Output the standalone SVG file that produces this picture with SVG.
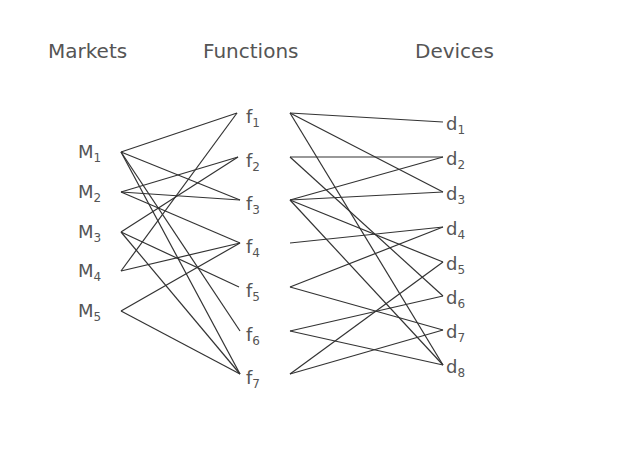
<svg xmlns="http://www.w3.org/2000/svg" width="618" height="465" viewBox="0 0 618 465">
<style>
.h{font-family:"DejaVu Sans",sans-serif;font-size:20px;fill:#555}
.l{font-family:"DejaVu Sans",sans-serif;font-size:18px;fill:#555}
.s{font-size:12px}
#connectors line{stroke:#333;stroke-width:1.2}
</style>
<rect width="618" height="465" fill="#fff"/>
<g id="headers">
<text class="h" x="48" y="58">Markets</text>
<text class="h" x="203" y="58">Functions</text>
<text class="h" x="415" y="58">Devices</text>
</g>
<g id="connectors">
<line x1="121" y1="152" x2="237" y2="113"/>
<line x1="121" y1="152" x2="240" y2="200"/>
<line x1="121" y1="152" x2="240" y2="331"/>
<line x1="121" y1="152" x2="240" y2="374"/>
<line x1="121" y1="192" x2="238" y2="157"/>
<line x1="121" y1="192" x2="240" y2="200"/>
<line x1="121" y1="192" x2="240" y2="243"/>
<line x1="121" y1="232" x2="238" y2="157"/>
<line x1="121" y1="232" x2="239" y2="287"/>
<line x1="121" y1="232" x2="240" y2="374"/>
<line x1="121" y1="271" x2="237" y2="113"/>
<line x1="121" y1="271" x2="240" y2="243"/>
<line x1="121" y1="311" x2="240" y2="243"/>
<line x1="121" y1="311" x2="240" y2="374"/>
<line x1="290" y1="113" x2="443" y2="122"/>
<line x1="290" y1="113" x2="443" y2="192"/>
<line x1="290" y1="113" x2="443" y2="365"/>
<line x1="290" y1="157" x2="443" y2="157"/>
<line x1="290" y1="157" x2="443" y2="296"/>
<line x1="290" y1="200" x2="443" y2="157"/>
<line x1="290" y1="200" x2="443" y2="192"/>
<line x1="290" y1="200" x2="443" y2="262"/>
<line x1="290" y1="200" x2="443" y2="365"/>
<line x1="290" y1="243" x2="443" y2="227"/>
<line x1="290" y1="287" x2="443" y2="227"/>
<line x1="290" y1="287" x2="443" y2="330"/>
<line x1="290" y1="331" x2="443" y2="296"/>
<line x1="290" y1="331" x2="443" y2="365"/>
<line x1="290" y1="374" x2="443" y2="262"/>
<line x1="290" y1="374" x2="443" y2="330"/>
</g>
<g id="M1"><text class="l" x="78" y="158">M<tspan class="s" dy="4">1</tspan></text></g>
<g id="M2"><text class="l" x="78" y="198">M<tspan class="s" dy="4">2</tspan></text></g>
<g id="M3"><text class="l" x="78" y="238">M<tspan class="s" dy="4">3</tspan></text></g>
<g id="M4"><text class="l" x="78" y="277">M<tspan class="s" dy="4">4</tspan></text></g>
<g id="M5"><text class="l" x="78" y="317">M<tspan class="s" dy="4">5</tspan></text></g>
<g id="f1"><text class="l" x="246" y="123">f<tspan class="s" dy="4">1</tspan></text></g>
<g id="f2"><text class="l" x="246" y="167">f<tspan class="s" dy="4">2</tspan></text></g>
<g id="f3"><text class="l" x="246" y="210">f<tspan class="s" dy="4">3</tspan></text></g>
<g id="f4"><text class="l" x="246" y="253">f<tspan class="s" dy="4">4</tspan></text></g>
<g id="f5"><text class="l" x="246" y="297">f<tspan class="s" dy="4">5</tspan></text></g>
<g id="f6"><text class="l" x="246" y="341">f<tspan class="s" dy="4">6</tspan></text></g>
<g id="f7"><text class="l" x="246" y="384">f<tspan class="s" dy="4">7</tspan></text></g>
<g id="d1"><text class="l" x="446" y="130">d<tspan class="s" dy="4">1</tspan></text></g>
<g id="d2"><text class="l" x="446" y="165">d<tspan class="s" dy="4">2</tspan></text></g>
<g id="d3"><text class="l" x="446" y="200">d<tspan class="s" dy="4">3</tspan></text></g>
<g id="d4"><text class="l" x="446" y="235">d<tspan class="s" dy="4">4</tspan></text></g>
<g id="d5"><text class="l" x="446" y="270">d<tspan class="s" dy="4">5</tspan></text></g>
<g id="d6"><text class="l" x="446" y="304">d<tspan class="s" dy="4">6</tspan></text></g>
<g id="d7"><text class="l" x="446" y="338">d<tspan class="s" dy="4">7</tspan></text></g>
<g id="d8"><text class="l" x="446" y="373">d<tspan class="s" dy="4">8</tspan></text></g>
</svg>
